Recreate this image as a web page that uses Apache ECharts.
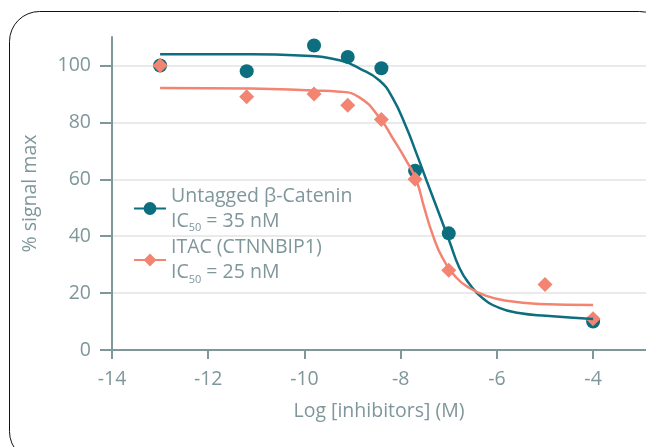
<!DOCTYPE html>
<html lang="en">
<head>
    <meta charset="UTF-8">
    <title>IC50 curves</title>
    <script src="https://cdn.jsdelivr.net/npm/echarts@6/dist/echarts.min.js"></script>
<style>
    html, body { margin: 0; padding: 0; background: #fff; }
    #tu { width: 646px; height: 447px; }
</style>
</head>
<body>
<div id="tu"></div>
<script>
    // measured points
    var catX = [-13, -11.2, -9.8, -9.1, -8.4, -7.7, -7.0, -4];
    var catY = [100, 98, 107, 103, 99, 63, 41, 10];
    var itacX = [-13, -11.2, -9.8, -9.1, -8.4, -7.7, -7.0, -5, -4];
    var itacY = [100, 89, 90, 86, 81, 60, 28, 23, 11];

    // fitted curves
    var catFitX = [-13, -11.1, -10.1, -9.27, -8.85, -8.44, -8.17, -7.88, -7.67, -7.46, -7.2, -6.99, -6.78, -6.57, -6.3, -5.95, -5.54, -4.98, -4];
    var catFitY = [103.9, 103.9, 103.5, 101.8, 98.9, 94.7, 88.7, 78.2, 69, 59.5, 47.9, 38.4, 28.9, 23.2, 18.3, 14.8, 13, 12, 10.9];
    var itacFitX = [-13, -11.1, -9.83, -9.27, -8.85, -8.44, -8.17, -7.88, -7.67, -7.51, -7.34, -7.13, -6.84, -6.57, -6.22, -5.8, -5.12, -4];
    var itacFitY = [92.1, 91.9, 91.2, 90.8, 88.7, 81.7, 74.6, 66.5, 59.5, 50, 40.8, 32.4, 25.4, 21.8, 19, 17.3, 16.2, 15.8];

    var xTicks = [-14, -12, -10, -8, -6, -4];
    var yTicks = [0, 20, 40, 60, 80, 100];

    var nameCat = 'Untagged β-Catenin';
    var nameItac = 'ITAC (CTNNBIP1)';
    var ic50 = {};
    ic50[nameCat] = '35 nM';
    ic50[nameItac] = '25 nM';

    var teal = '#0c6e7e';
    var salmon = '#f28471';
    var grey = '#7f969b';

    function pairs(xs, ys) {
        return xs.map(function (x, i) { return [x, ys[i]]; });
    }

    var tu = echarts.init(document.getElementById('tu'));
    var option = {
        animation: false,
        textStyle: { fontFamily: 'Open Sans' },
        graphic: [{
            type: 'rect',
            shape: { x: 9.5, y: 11.5, width: 660, height: 450, r: 30 },
            style: { fill: 'none', stroke: '#111', lineWidth: 1 },
            z: -1
        }],
        grid: { left: 112, right: 0, top: 37, bottom: 97 },
        legend: {
            orient: 'vertical',
            left: 128,
            top: 181,
            itemWidth: 32,
            itemHeight: 16,
            itemGap: 4,
            data: [nameCat, nameItac],
            formatter: function (name) {
                return '{t|' + name + '}\n{t|IC}{s|50}{t| = ' + ic50[name] + '}';
            },
            textStyle: {
                color: grey,
                rich: {
                    t: { fontSize: 19.5, color: grey, fontFamily: 'Open Sans', lineHeight: 25 },
                    s: { fontSize: 11, color: grey, fontFamily: 'Open Sans', lineHeight: 25, verticalAlign: 'bottom', padding: [11, 0, 0, 0] }
                }
            }
        },
        xAxis: {
            type: 'value',
            min: -14,
            max: -2.9,
            name: 'Log [inhibitors] (M)',
            nameLocation: 'middle',
            nameGap: 51,
            nameTextStyle: { color: grey, fontSize: 19.5 },
            axisLine: { lineStyle: { color: grey, width: 2 } },
            axisTick: { show: true, length: 9, lineStyle: { color: grey, width: 2 }, customValues: xTicks },
            axisLabel: { color: grey, fontSize: 19.5, margin: 19, customValues: xTicks },
            splitLine: { show: false }
        },
        yAxis: {
            type: 'value',
            min: 0,
            max: 110,
            name: '% signal max',
            nameLocation: 'middle',
            nameGap: 72,
            nameTextStyle: { color: grey, fontSize: 19.5 },
            axisLine: { show: true, lineStyle: { color: grey, width: 2 } },
            axisTick: { show: true, length: 12, lineStyle: { color: grey, width: 2 }, customValues: yTicks },
            axisLabel: { color: grey, fontSize: 19.5, margin: 21, customValues: yTicks },
            splitLine: { show: true, lineStyle: { color: '#e3e3e3', width: 1.5 } }
        },
        series: [
            {
                name: nameCat, type: 'line', smooth: true, showSymbol: false,
                symbol: 'circle', color: teal,
                lineStyle: { color: teal, width: 2.5 },
                data: pairs(catFitX, catFitY)
            },
            {
                name: nameItac, type: 'line', smooth: true, showSymbol: false,
                symbol: 'diamond', color: salmon,
                lineStyle: { color: salmon, width: 2.5 },
                data: pairs(itacFitX, itacFitY)
            },
            {
                name: nameCat, type: 'scatter', symbol: 'circle', symbolSize: 14,
                itemStyle: { color: teal, opacity: 1 },
                data: pairs(catX, catY)
            },
            {
                name: nameItac, type: 'scatter', symbol: 'diamond', symbolSize: 15,
                itemStyle: { color: salmon, opacity: 1 },
                data: pairs(itacX, itacY)
            }
        ]
    };
    tu.setOption(option);
</script>
</body>
</html>
